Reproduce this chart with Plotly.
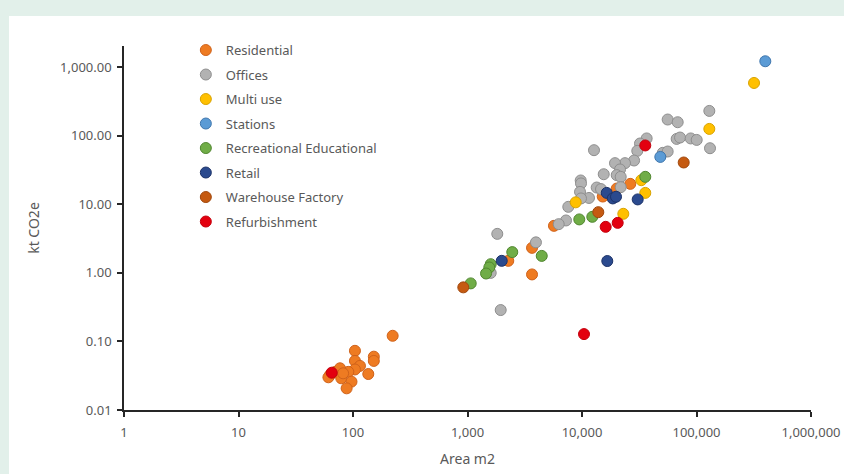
import plotly.graph_objects as go

# ---------------- data ----------------
categories = ["Residential", "Offices", "Multi use", "Stations",
              "Recreational Educational", "Retail", "Warehouse Factory", "Refurbishment"]

residential_area = [222, 104, 152, 152, 104, 115, 104, 91, 136, 63, 70, 77, 79, 82, 97, 88, 61,
                    5690, 3660, 2270, 3660, 15170, 20100, 26400]
residential_co2 = [0.121, 0.073, 0.060, 0.052, 0.052, 0.044, 0.039, 0.036, 0.0335, 0.0324, 0.036,
                   0.0406, 0.029, 0.0343, 0.0259, 0.0207, 0.030,
                   4.86, 2.32, 1.50, 0.95, 13.0, 17.0, 19.9]

offices_area = [129400, 131200, 56000, 68500, 67100, 71800, 89000, 100400, 50700, 56000, 12730,
                36700, 32100, 30400, 28500, 23750, 19420, 21480, 20100, 21780, 15480, 9740, 9800,
                9610, 13440, 14650, 21780, 11510, 9800, 7590, 7250, 6260, 1820, 3960, 1595, 1950]
offices_co2 = [230.7, 65.9, 172.8, 157.8, 90.1, 94.4, 91.5, 87.1, 56.4, 59.0, 61.7,
               91.5, 77.2, 60.3, 43.6, 39.9, 39.9, 32.3, 26.7, 25.2, 27.5, 22.3, 20.2,
               15.2, 17.6, 16.7, 17.8, 12.4, 12.2, 9.2, 5.82, 5.14, 3.71, 2.79, 1.0, 0.287]

multiuse_area = [129400, 318000, 32960, 35700, 8810, 22950]
multiuse_co2 = [126, 590, 22.5, 14.7, 10.7, 7.28]

stations_area = [399000, 48300]
stations_co2 = [1223, 49.2]

recreational_area = [35700, 9470, 12300, 2460, 4450, 1595, 1550, 1452, 1067]
recreational_co2 = [25.2, 6.03, 6.58, 2.01, 1.77, 1.34, 1.20, 0.98, 0.703]

retail_area = [1990, 16440, 18550, 19820, 30650, 16630]
retail_co2 = [1.50, 14.7, 12.2, 12.9, 11.8, 1.49]

warehouse_area = [919, 13880, 77300]
warehouse_co2 = [0.615, 7.69, 40.8]

refurb_area = [35700, 16100, 20500, 10410, 65.2]
refurb_co2 = [72.3, 4.70, 5.37, 0.128, 0.035]

x_tickvals = [1, 10, 100, 1000, 10000, 100000, 1000000]
x_ticktext = ["1", "10", "100", "1,000", "10,000", "100,000", "1,000,000"]
y_tickvals = [0.01, 0.1, 1, 10, 100, 1000]
y_ticktext = ["0.01", "0.10", "1.00", "10.00", "100.00", "1,000.00"]

series = [
    (categories[0], residential_area, residential_co2, "#EE7B22", "#D0621A"),
    (categories[1], offices_area, offices_co2, "#B2B2B2", "#8E8E8E"),
    (categories[2], multiuse_area, multiuse_co2, "#FFC000", "#D9A300"),
    (categories[3], stations_area, stations_co2, "#5B9BD5", "#3F76AD"),
    (categories[4], recreational_area, recreational_co2, "#70AD47", "#50862F"),
    (categories[5], retail_area, retail_co2, "#2B4A8E", "#1C3268"),
    (categories[6], warehouse_area, warehouse_co2, "#C55A11", "#A0470C"),
    (categories[7], refurb_area, refurb_co2, "#E3000F", "#C4000C"),
]

fig = go.Figure()
for i, (name, xs, ys, fill, edge) in enumerate(series):
    fig.add_trace(go.Scatter(
        x=xs, y=ys, mode="markers", name=name, legendgroup=f"g{i}",
        marker=dict(size=11, color=fill, line=dict(color=edge, width=1)),
    ))

font_family = "Noto Sans, Open Sans, DejaVu Sans, sans-serif"

fig.update_layout(
    width=844, height=474,
    margin=dict(l=124, r=33, t=46, b=64),
    paper_bgcolor="#E2F0EA",
    plot_bgcolor="white",
    font=dict(family=font_family, size=13, color="#595959"),
    showlegend=True,
    legend=dict(
        x=0.090, y=1.030, xanchor="left", yanchor="top",
        bgcolor="rgba(0,0,0,0)", tracegroupgap=4.6,
        font=dict(size=13, color="#595959"),
    ),
    shapes=[dict(
        type="rect", xref="paper", yref="paper",
        x0=-0.1674, x1=1.06, y0=-0.19, y1=1.0824,
        fillcolor="white", line=dict(width=0), layer="below",
    )],
)

fig.update_xaxes(
    type="log", range=[0, 6], automargin=False,
    tickvals=x_tickvals, ticktext=x_ticktext,
    showgrid=False, zeroline=False,
    showline=True, linecolor="#262626", linewidth=1.5,
    ticks="outside", ticklen=5, tickcolor="#262626", tickwidth=1.5,
    ticklabelstandoff=5,
    tickfont=dict(size=13, color="#595959"),
    title=dict(text="Area m2", font=dict(size=14, color="#595959"), standoff=14),
)
fig.update_yaxes(
    type="log", range=[-2, 3.31], automargin=False,
    tickvals=y_tickvals, ticktext=y_ticktext,
    showgrid=False, zeroline=False,
    showline=True, linecolor="#262626", linewidth=1.5,
    ticks="outside", ticklen=5, tickcolor="#262626", tickwidth=1.5,
    ticklabelstandoff=3,
    tickfont=dict(size=13, color="#595959"),
    title=dict(text="kt CO2e", font=dict(size=14, color="#595959"), standoff=17),
)

fig.write_html("out.html", config={"displayModeBar": False},
               post_script="document.body.style.margin='0';")
